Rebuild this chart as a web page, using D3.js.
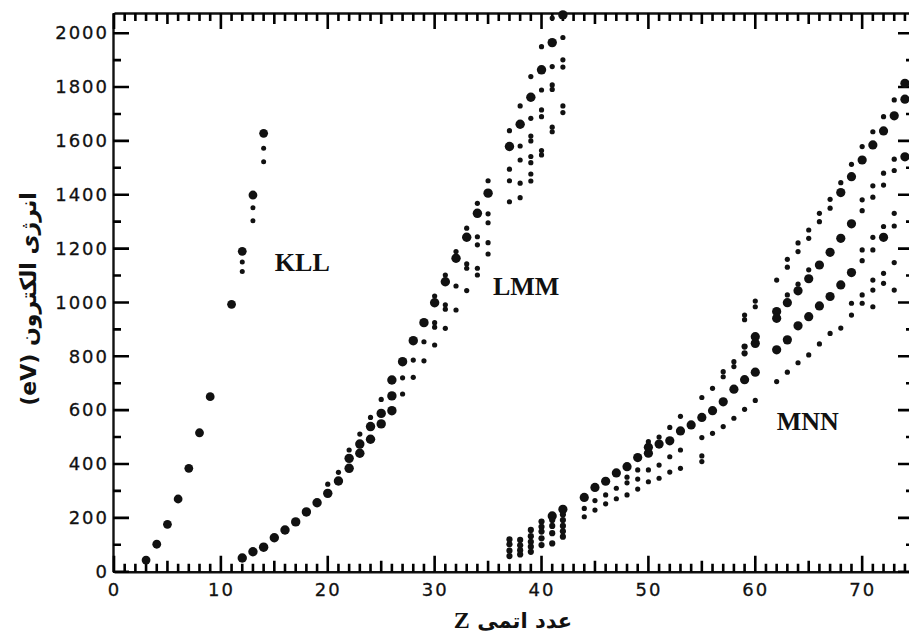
<!DOCTYPE html>
<html>
<head>
<meta charset="utf-8">
<script src="https://cdn.jsdelivr.net/npm/d3@7"></script>
<style>
  body { margin: 0; background: #fff; }
  .ax path { stroke: #111; stroke-width: 2.4; }
  .ax text { font-family: "DejaVu Sans", sans-serif; font-size: 18px; fill: #111; letter-spacing: 2px;
             stroke: #111; stroke-width: 0.3px; }
</style>
</head>
<body>
<svg id="chart" width="909" height="636"></svg>
<script>
// values: [Z, energy in eV]
const kllBig = [[3,43],[4,102],[5,176],[6,270],[7,384],[8,516],[9,650],[11,993],[12,1190],[13,1399],[14,1628]];
const kllSmall = [[12,1150],[12,1115],[13,1352],[13,1303],[14,1573],[14,1523]];

const lmmBig = [[12,51],[13,74],[14,91],[15,126],[16,155],[17,185],[18,222],[19,256],[20,291],[21,337],
  [22,384],[22,421],[23,440],[23,474],[24,492],[24,539],[25,549],[25,588],[26,598],[26,653],[26,712],
  [27,780],[28,858],[29,925],[30,999],[31,1077],[32,1164],[33,1242],[34,1331],[35,1406],
  [37,1579],[38,1662],[39,1762],[40,1864],[41,1965],[42,2068]];
const lmmSmall = [[20,325],[21,369],[22,452],[23,511],[24,573],[25,640],[27,720],[27,660],[28,786],[28,722],
  [29,854],[29,783],[30,1024],[30,925],[30,908],[30,842],[31,1102],[31,991],[31,975],[31,904],
  [32,1189],[32,1061],[32,972],[33,1276],[33,1143],[33,1127],[33,1044],
  [34,1368],[34,1244],[34,1214],[34,1127],[34,1102],[35,1452],[35,1329],[35,1296],[35,1222],[35,1180],
  [37,1638],[37,1495],[37,1452],[37,1374],[38,1730],[38,1581],[38,1529],[38,1443],[38,1389],
  [39,1839],[39,1684],[39,1618],[39,1600],[39,1542],[39,1519],[39,1477],[39,1451],
  [40,1950],[40,1789],[40,1715],[40,1690],[40,1564],[40,1548],
  [41,2056],[41,1876],[41,1808],[41,1791],[41,1651],[41,1634],
  [42,1984],[42,1901],[42,1874],[42,1730],[42,1705]];

const mnnBig = [[41,207],[42,232],[44,276],[45,313],[46,336],[47,367],[48,390],[49,424],[50,440],[50,462],
  [51,474],[52,486],[53,523],[54,545],[55,573],[56,598],[57,631],[58,678],[59,713],[60,741],[60,873],[60,848],
  [62,824],[62,966],[62,941],[63,861],[63,999],[64,913],[64,1043],[65,947],[65,1088],[66,987],[66,1139],
  [67,1022],[67,1186],[68,1065],[68,1238],[68,1408],[69,1111],[69,1292],[69,1467],[70,1529],[71,1585],
  [72,1637],[72,1242],[73,1693],[74,1755],[74,1814],[74,1541]];
const mnnMid = [[37,120],[37,102],[37,78],[37,58],[38,118],[38,98],[38,80],[38,64],
  [39,155],[39,132],[39,111],[39,93],[39,74],[40,186],[40,167],[40,149],[40,124],[40,99],
  [41,192],[41,170],[41,143],[41,105],[42,212],[42,192],[42,170],[42,150],[42,130],[59,836],[59,811]];
const mnnSmall = [[44,235],[44,204],[45,264],[45,229],[46,285],[46,252],[47,310],[47,271],
  [48,351],[48,330],[48,285],[49,378],[49,344],[49,307],[50,483],[50,378],[50,334],[51,500],[51,396],[51,347],
  [52,536],[52,427],[52,370],[53,577],[53,452],[53,384],[55,647],[55,498],[55,430],[55,409],[56,681],[56,514],
  [57,743],[57,724],[57,539],[58,780],[58,762],[58,570],[59,953],[59,936],[59,603],[60,1005],[60,984],[60,636],
  [62,1083],[62,706],[63,1028],[63,1160],[63,1131],[63,741],[64,1068],[64,1221],[64,1189],[64,776],
  [65,1121],[65,1269],[65,1238],[65,805],[66,1331],[66,1300],[66,846],[67,1383],[67,1350],[67,885],
  [68,1445],[68,905],[69,1513],[69,997],[69,953],
  [70,1579],[70,1381],[70,1341],[70,1195],[70,1155],[70,1028],[70,997],
  [71,1634],[71,1433],[71,1391],[71,1242],[71,1195],[71,1083],[71,1046],[71,984],
  [72,1690],[72,1480],[72,1436],[72,1282],[72,1108],[72,1071],
  [73,1752],[73,1532],[73,1490],[73,1331],[73,1284],[73,1148],[73,1046]];

const xLabels = [0,10,20,30,40,50,60,70];
const yLabels = [0,200,400,600,800,1000,1200,1400,1600,1800,2000];
const seriesNames = ["KLL", "LMM", "MNN"];
const xTitle = "عدد اتمی ";
const yTitle = "انرژی الکترون (eV)";

const svg = d3.select("#chart");
const L = 114, R = 914, T = 13, B = 571.7;
const x = d3.scaleLinear().domain([0, 74.85]).range([L, R]);
const y = d3.scaleLinear().domain([0, 2075]).range([B, T]);

const zTicks = d3.range(0, 75);
const eTicks = d3.range(0, 2001, 100);
const zLen = d => d % 10 === 0 ? 16 : d % 5 === 0 ? 11 : 8;
const eLen = d => d % 200 === 0 ? 16 : 8;

// frame lines + labels from the axes
svg.append("g").attr("class", "ax").attr("transform", `translate(0,${B})`)
  .call(d3.axisBottom(x).tickValues(xLabels).tickSize(0).tickPadding(12).tickFormat(d3.format("d")));
svg.append("g").attr("class", "ax").attr("transform", `translate(0,${T})`)
  .call(d3.axisTop(x).tickValues([]).tickSize(0));
svg.append("g").attr("class", "ax").attr("transform", `translate(${L - 1},0)`)
  .call(d3.axisLeft(y).tickValues(yLabels).tickSize(0).tickPadding(4).tickFormat(d3.format("d")));
svg.append("g").attr("class", "ax").attr("transform", `translate(${R},0)`)
  .call(d3.axisRight(y).tickValues([]).tickSize(0));

// inward tick marks on all four sides
svg.append("path")
  .attr("d", zTicks.map(d => `M${x(d)},${B}V${B - zLen(d)}`).join(""))
  .attr("fill", "none").attr("stroke", "black").attr("stroke-width", 2.6);
svg.append("path")
  .attr("d", zTicks.map(d => `M${x(d)},${T}V${T + zLen(d)}`).join(""))
  .attr("fill", "none").attr("stroke", "black").attr("stroke-width", 2.6);
svg.append("path")
  .attr("d", eTicks.map(d => `M${L - 1},${y(d)}H${L - 1 + eLen(d)}`).join(""))
  .attr("fill", "none").attr("stroke", "black").attr("stroke-width", 2.6);
svg.append("path")
  .attr("d", eTicks.map(d => `M${R},${y(d)}H${R - eLen(d)}`).join(""))
  .attr("fill", "none").attr("stroke", "black").attr("stroke-width", 2.6);

// points
function dots(data, r) {
  svg.append("g").selectAll("circle").data(data).join("circle")
    .attr("cx", d => x(d[0])).attr("cy", d => y(d[1])).attr("r", r).attr("fill", "#111");
}
dots(kllBig, 4.4);
dots(kllSmall, 2.5);
dots(lmmBig, 4.7);
dots(lmmSmall, 2.6);
dots(mnnBig, 4.6);
dots(mnnMid, 3.1);
dots(mnnSmall, 2.6);

// series names
const namePos = [[15.05, 1117], [35.45, 1027], [62.0, 526]];
svg.append("g").selectAll("text").data(seriesNames).join("text")
  .attr("x", (d, i) => x(namePos[i][0])).attr("y", (d, i) => y(namePos[i][1]))
  .attr("font-family", "'Liberation Serif', serif").attr("font-weight", "bold")
  .attr("font-size", 26).attr("fill", "#111").text(d => d);

// axis titles (Persian, right-to-left)
const xt = svg.append("text").attr("x", 513).attr("y", 628)
  .attr("direction", "rtl").attr("text-anchor", "middle")
  .attr("font-family", "'DejaVu Sans', sans-serif").attr("font-weight", "bold")
  .attr("font-size", 21).attr("fill", "#111");
xt.append("tspan").text(xTitle);
xt.append("tspan").attr("font-family", "'Liberation Serif', serif").attr("font-size", 24).text("Z");

svg.append("text").attr("transform", "translate(28,299) rotate(-90)")
  .attr("direction", "rtl").attr("text-anchor", "middle").attr("dominant-baseline", "central")
  .attr("font-family", "'DejaVu Sans', sans-serif").attr("font-weight", "bold")
  .attr("font-size", 22).attr("fill", "#111").text(yTitle);
</script>
</body>
</html>
